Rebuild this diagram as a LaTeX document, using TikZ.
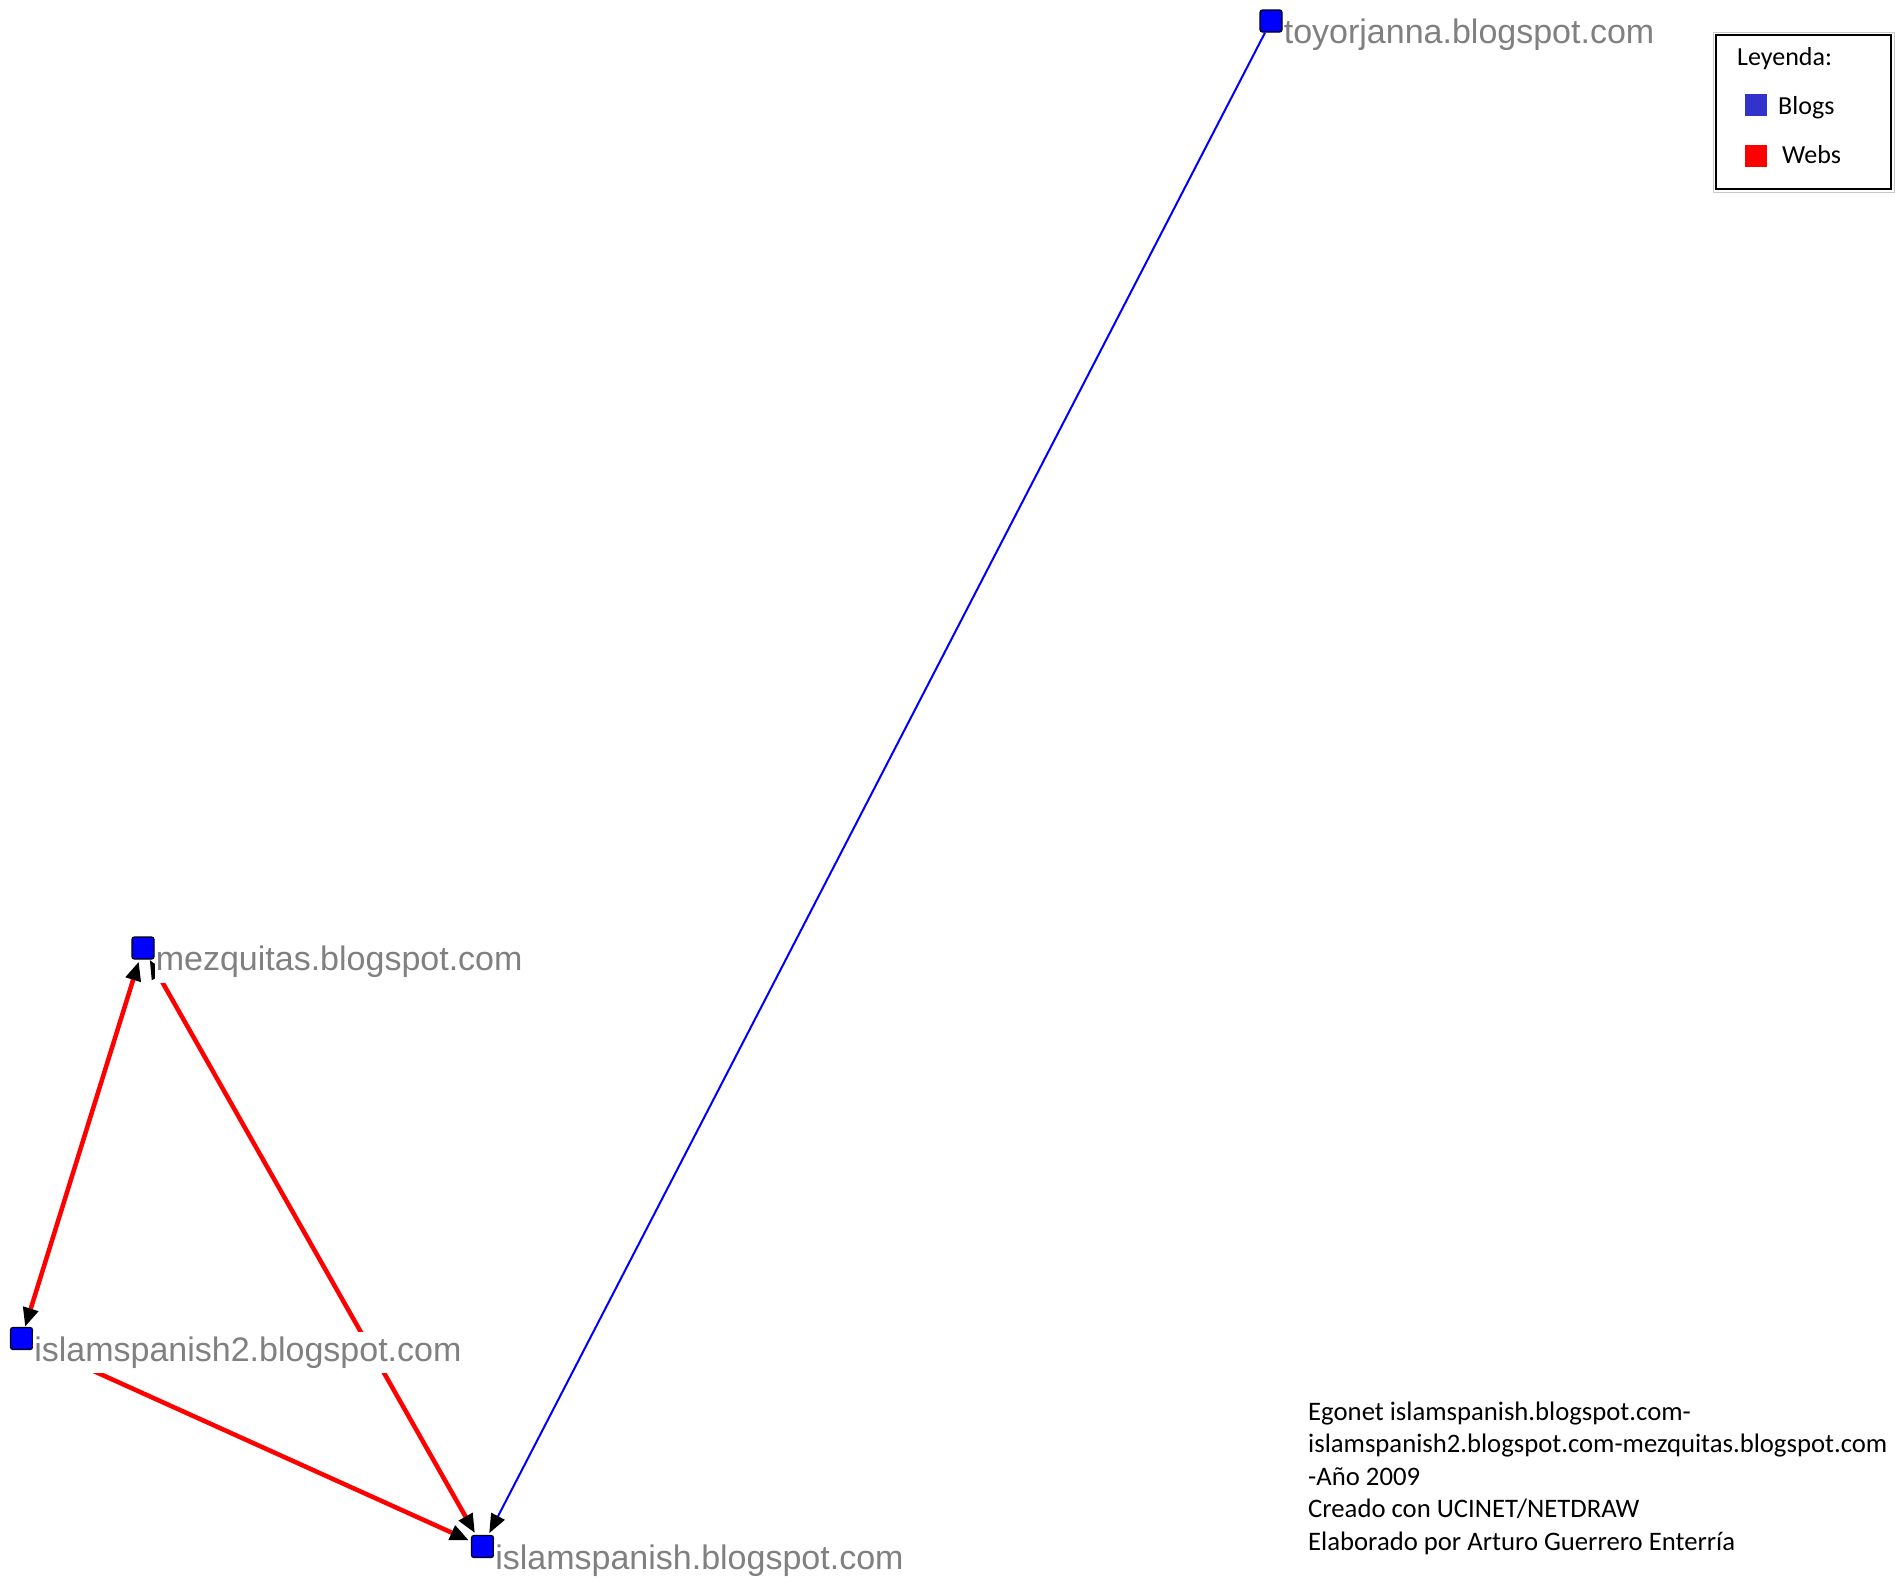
\documentclass[tikz,border=0pt]{standalone}
\usepackage{fontspec}
\setmainfont{Liberation Sans}
\newfontfamily\notefont{Carlito}
\usetikzlibrary{arrows.meta}

\begin{document}
\begin{tikzpicture}[x=1pt, y=-1pt, >={Triangle[length=19pt, width=15pt, color=black]},
    site/.style={draw=black, line width=1.3pt, fill=blogblue, rounded corners=2.5pt,
      minimum size=22pt, inner sep=0pt},
    sitename/.style={anchor=base west, fill=white, inner xsep=1pt, inner ysep=5pt,
      text=namegray, font=\fontsize{34}{40}\selectfont},
    redlink/.style={webred, line width=4.5pt, shorten >=2pt},
    bluelink/.style={blogblue, line width=2pt, shorten >=2pt},
    legendkey/.style={minimum size=22pt, inner sep=0pt},
    legendtext/.style={anchor=base west, inner sep=0pt, font=\notefont\fontsize{26}{30}\selectfont}]
  \definecolor{blogblue}{RGB}{0,0,255}
  \definecolor{webred}{RGB}{255,0,0}
  \definecolor{namegray}{RGB}{128,128,128}
  \definecolor{keyblue}{RGB}{50,50,205}
  \definecolor{framegray}{RGB}{200,200,200}

  \fill[white] (0,0) rectangle (1895,1580);
  \useasboundingbox (0,0) rectangle (1895,1580);

  \node[site] (toyor) at (1271,21) {};
  \node[site] (mezq) at (143,948) {};
  \node[site] (islam2) at (21.5,1338.5) {};
  \node[site] (islam) at (482.5,1546.5) {};

  \draw[redlink, <->] (islam2) -- (mezq);
  \draw[redlink, <->] (mezq) -- (islam);
  \draw[redlink, ->] (islam2) -- (islam);
  \draw[bluelink, ->] (toyor) -- (islam);

  \node[sitename] (toyor-name) at ([yshift=-11pt]toyor.south east) {toyorjanna.blogspot.com};
  \node[sitename] (mezq-name) at ([yshift=-11pt]mezq.south east) {mezquitas.blogspot.com};
  \node[sitename] (islam2-name) at ([yshift=-11pt]islam2.south east) {islamspanish2.blogspot.com};
  \node[sitename] (islam-name) at ([yshift=-11pt]islam.south east) {islamspanish.blogspot.com};

  \draw[framegray, line width=1pt] (1713,32) rectangle (1894,192);
  \draw[black, line width=2.5pt] (1716,35) rectangle (1891,189);
  \node[legendtext] (legend-title) at (1737,65) {Leyenda:};
  \node[legendkey, fill=keyblue] (blogs-key) at (1756,105) {};
  \node[legendtext] (blogs-name) at (1778,114) {Blogs};
  \node[legendkey, fill=webred] (webs-key) at (1756,156) {};
  \node[legendtext] (webs-name) at (1782,163) {Webs};

  \node[anchor=base west, inner sep=0pt, align=left, font=\notefont\fontsize{26.7}{32.5}\selectfont] (credits) at (1308,1550)
    {Egonet islamspanish.blogspot.com-\\islamspanish2.blogspot.com-mezquitas.blogspot.com\\-Año 2009\\Creado con UCINET/NETDRAW\\Elaborado por Arturo Guerrero Enterría};
\end{tikzpicture}
\end{document}
